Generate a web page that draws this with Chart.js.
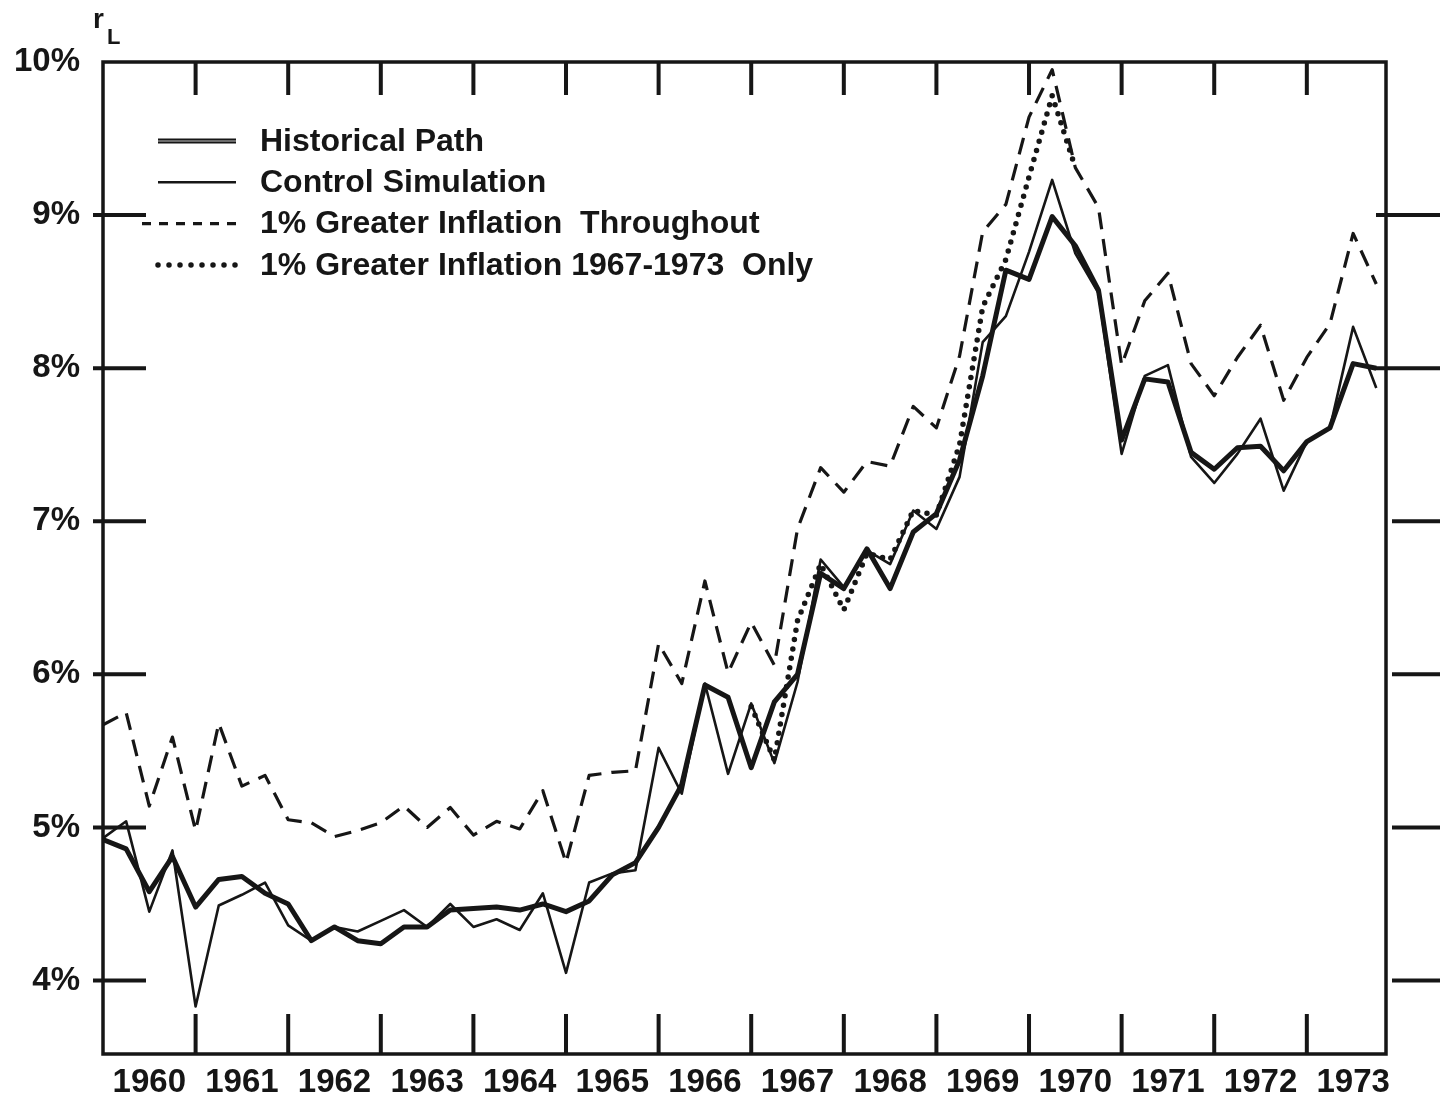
<!DOCTYPE html>
<html lang="en">
<head>
<meta charset="UTF-8">
<title>Long-term rate: historical path and simulations</title>
<script src="https://cdn.jsdelivr.net/npm/chart.js"></script>
<style>
    * { margin: 0; padding: 0; }
    body { background-color: #fff; }
    #wrap { width: 1449px; height: 1098px; }
</style>
</head>
<body>
<div id="wrap"><canvas id="rateChart" width="1449" height="1098"></canvas></div>
<script>
// quarterly observations, 1960 Q1 through 1973 Q4
const firstYear = 1960;
const yearLabels = ['1960', '1961', '1962', '1963', '1964', '1965', '1966',
                    '1967', '1968', '1969', '1970', '1971', '1972', '1973'];
const yTicks = [4, 5, 6, 7, 8, 9, 10];

const historical = [4.92, 4.86, 4.58, 4.81, 4.48, 4.66, 4.68, 4.57, 4.50, 4.26,
                    4.35, 4.26, 4.24, 4.35, 4.35, 4.46, 4.47, 4.48, 4.46, 4.50,
                    4.45, 4.52, 4.69, 4.77, 5.00, 5.28, 5.93, 5.85, 5.39, 5.82,
                    6.00, 6.66, 6.56, 6.82, 6.56, 6.93, 7.05, 7.40, 7.95, 8.64,
                    8.58, 8.99, 8.80, 8.51, 7.53, 7.93, 7.91, 7.45, 7.34, 7.48,
                    7.49, 7.33, 7.52, 7.61, 8.03, 8.00];
const control = [4.93, 5.04, 4.45, 4.85, 3.83, 4.49, 4.56, 4.64, 4.36, 4.26,
                 4.35, 4.32, 4.39, 4.46, 4.35, 4.50, 4.35, 4.40, 4.33, 4.57,
                 4.05, 4.64, 4.70, 4.72, 5.52, 5.22, 5.94, 5.35, 5.81, 5.42,
                 5.95, 6.75, 6.57, 6.81, 6.72, 7.07, 6.95, 7.29, 8.17, 8.34,
                 8.76, 9.23, 8.75, 8.49, 7.44, 7.95, 8.02, 7.42, 7.25, 7.44,
                 7.67, 7.20, 7.52, 7.61, 8.27, 7.87];
const inflationAll = [5.67, 5.75, 5.14, 5.59, 4.98, 5.68, 5.27, 5.34, 5.05, 5.03,
                      4.94, 4.98, 5.03, 5.14, 5.00, 5.13, 4.95, 5.04, 4.99, 5.24,
                      4.77, 5.34, 5.36, 5.37, 6.20, 5.94, 6.61, 6.01, 6.34, 6.06,
                      6.95, 7.35, 7.19, 7.39, 7.36, 7.75, 7.61, 8.08, 8.89, 9.07,
                      9.64, 9.95, 9.31, 9.05, 8.02, 8.44, 8.62, 8.03, 7.82, 8.07,
                      8.28, 7.79, 8.07, 8.29, 8.88, 8.55];
// only from 1967 on; after mid 1970 it runs on the dashed line
const inflation67Start = 1967;
const inflation67 = [5.79, 5.44, 6.35, 6.72, 6.42, 6.79, 6.75, 7.07, 7.04, 7.50,
                     8.40, 8.71, 9.25, 9.78, 9.31];

const ink = '#161616';
const fontFamily = "'Liberation Sans', Arial, sans-serif";

function quarterly(values, from) {
    return values.map((v, i) => ({ x: from + i / 4, y: v }));
}

const lineBase = { pointRadius: 0, tension: 0, fill: false, borderColor: ink, borderJoinStyle: 'round' };

const datasets = [
    Object.assign({}, lineBase, { label: 'Historical Path', data: quarterly(historical, firstYear), borderWidth: 5 }),
    Object.assign({}, lineBase, { label: '', data: quarterly(historical, firstYear), borderWidth: 1.3, borderColor: '#8a8a8a' }),
    Object.assign({}, lineBase, { label: 'Control Simulation', data: quarterly(control, firstYear), borderWidth: 2.6 }),
    Object.assign({}, lineBase, { label: '1% Greater Inflation  Throughout', data: quarterly(inflationAll, firstYear),
        borderWidth: 3.2, borderDash: [17, 10], legendDash: [9, 8] }),
    Object.assign({}, lineBase, { label: '1% Greater Inflation 1967-1973  Only', data: quarterly(inflation67, inflation67Start),
        borderWidth: 5.5, borderDash: [0, 9.5], borderCapStyle: 'round', legendDash: [0, 11] })
];

const framePlugin = {
    id: 'frame',
    afterDatasetsDraw(chart) {
        const { ctx, chartArea: a, scales: { x, y } } = chart;
        ctx.save();
        ctx.strokeStyle = ink;
        ctx.lineCap = 'butt';
        ctx.lineWidth = 3.5;
        ctx.strokeRect(a.left, a.top, a.right - a.left, a.bottom - a.top);

        ctx.lineWidth = 4;
        ctx.beginPath();
        yTicks.filter(v => v < 10).forEach(v => {
            const py = y.getPixelForValue(v);
            ctx.moveTo(a.left - 10, py); ctx.lineTo(a.left + 43, py);
            // upper right ticks cross the frame, lower ones sit outside it
            ctx.moveTo(v >= 8 ? a.right - 10 : a.right + 6, py); ctx.lineTo(a.right + 54, py);
        });
        yearLabels.slice(1).forEach(lbl => {
            const px = x.getPixelForValue(Number(lbl));
            ctx.moveTo(px, a.top); ctx.lineTo(px, a.top + 33);
            ctx.moveTo(px, a.bottom); ctx.lineTo(px, a.bottom - 40);
        });
        ctx.stroke();

        // axis symbol r with subscript L
        ctx.fillStyle = ink;
        ctx.textBaseline = 'alphabetic';
        ctx.font = 'bold 28px ' + fontFamily;
        ctx.fillText('r', 93, 28);
        ctx.font = 'bold 22px ' + fontFamily;
        ctx.fillText('L', 107, 44);

        // legend inside the plot
        const rows = [0, 2, 3, 4];
        rows.forEach((di, r) => {
            const ds = chart.data.datasets[di];
            const ly = 141 + r * 41.3;
            ctx.beginPath();
            ctx.setLineDash(ds.legendDash || []);
            ctx.lineCap = ds.borderCapStyle || 'butt';
            ctx.lineWidth = ds.borderWidth;
            ctx.strokeStyle = ds.borderColor;
            ctx.moveTo(di === 3 ? 142 : 158, ly);
            ctx.lineTo(236, ly);
            ctx.stroke();
            if (di === 0) {
                const core = chart.data.datasets[1];
                ctx.beginPath();
                ctx.lineWidth = core.borderWidth;
                ctx.strokeStyle = core.borderColor;
                ctx.moveTo(158, ly); ctx.lineTo(236, ly);
                ctx.stroke();
            }
            ctx.setLineDash([]);
            ctx.font = 'bold 32px ' + fontFamily;
            ctx.textBaseline = 'middle';
            ctx.fillStyle = ink;
            ctx.fillText(ds.label, 260, ly + 1);
        });
        ctx.restore();
    }
};

new Chart(document.getElementById('rateChart'), {
    type: 'line',
    data: { datasets: datasets },
    options: {
        responsive: false,
        animation: false,
        devicePixelRatio: 1,
        layout: { padding: { top: 62, right: 63, left: 0, bottom: 0 } },
        plugins: { legend: { display: false }, tooltip: { enabled: false } },
        scales: {
            x: {
                type: 'linear',
                min: 1960,
                max: 1973.855,
                afterFit: s => { s.height = 44; },
                afterBuildTicks: s => { s.ticks = yearLabels.map(l => ({ value: Number(l) + 0.5 })); },
                ticks: {
                    autoSkip: false, maxRotation: 0, padding: 9, color: ink,
                    font: { family: fontFamily, size: 33, weight: 'bold' },
                    callback: v => String(Math.floor(v))
                },
                grid: { display: false, drawTicks: false },
                border: { display: false }
            },
            y: {
                min: 3.52,
                max: 10,
                afterFit: s => { s.width = 103; },
                afterBuildTicks: s => { s.ticks = yTicks.map(v => ({ value: v })); },
                ticks: {
                    padding: 23, color: ink,
                    font: { family: fontFamily, size: 33, weight: 'bold' },
                    callback: v => v + '%'
                },
                grid: { display: false, drawTicks: false },
                border: { display: false }
            }
        }
    },
    plugins: [framePlugin]
});
</script>
</body>
</html>
